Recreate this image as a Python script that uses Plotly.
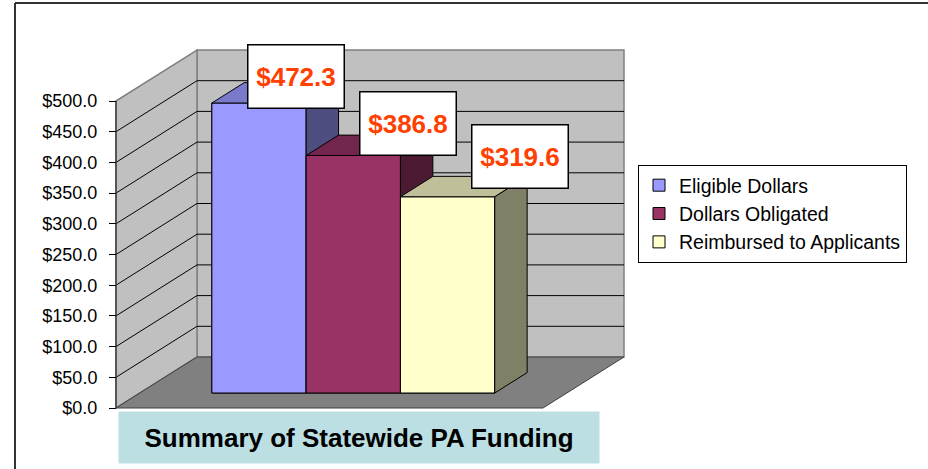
import plotly.graph_objects as go

# ---------------- data ----------------
categories = ["Eligible Dollars", "Dollars Obligated", "Reimbursed to Applicants"]
values = [472.3, 386.8, 319.6]
value_labels = ["$472.3", "$386.8", "$319.6"]
tick_values = [0, 50, 100, 150, 200, 250, 300, 350, 400, 450, 500]
tick_labels = ["$0.0", "$50.0", "$100.0", "$150.0", "$200.0", "$250.0",
               "$300.0", "$350.0", "$400.0", "$450.0", "$500.0"]
title_text = "Summary of Statewide PA Funding"

# ---------------- styles ----------------
front_colors = ["#9999FF", "#993366", "#FFFFCC"]
top_colors = ["#7A7ACC", "#73264D", "#BFBF99"]
side_colors = ["#4D4D80", "#4D1A33", "#808066"]
WALL = "#C0C0C0"
FLOOR = "#808080"
LABEL_RED = "#FF4000"
FONT = "Arial, 'Liberation Sans', sans-serif"

# ---------------- geometry (oblique 3-D projection) ----------------
W, H = 928, 469
PX_PER_CAT = 94.3          # pixels per category step
PX_PER_USD = 0.614         # pixels per dollar (front plane)
X0_PX, Y0_PX = 259, 408    # pixel of category 0 / $0 on the front plane
DX = 81 / PX_PER_CAT       # full depth of the chart box, x data units
DY = 51 / PX_PER_USD       # full depth of the chart box, y data units
BAR_FRONT = 0.294          # depth fraction where bar fronts sit
BAR_DEPTH = 0.40           # depth fraction occupied by bars
XL = (116 - X0_PX) / PX_PER_CAT   # left edge of floor/left wall (front)
XR = (543 - X0_PX) / PX_PER_CAT   # right edge of floor (front)
WALL_TOP = tick_values[-1]

x_range = [-X0_PX / PX_PER_CAT, (W - X0_PX) / PX_PER_CAT]
y_range = [(Y0_PX - H) / PX_PER_USD, Y0_PX / PX_PER_USD]

base = BAR_FRONT * DY
bdx, bdy = BAR_DEPTH * DX, BAR_DEPTH * DY

fig = go.Figure()

# ---------------- walls & floor (shapes, below traces) ----------------
def poly(pts):
    return "M " + " L ".join(f"{x},{y}" for x, y in pts) + " Z"

shapes = []
# back wall
shapes.append(dict(type="path", xref="x", yref="y", layer="below",
                   path=poly([(XL + DX, DY), (XL + DX, WALL_TOP + DY),
                              (XR + DX, WALL_TOP + DY), (XR + DX, DY)]),
                   fillcolor=WALL, line=dict(color="#808080", width=1.5)))
# left wall
shapes.append(dict(type="path", xref="x", yref="y", layer="below",
                   path=poly([(XL, 0), (XL, WALL_TOP), (XL + DX, WALL_TOP + DY),
                              (XL + DX, DY)]),
                   fillcolor=WALL, line=dict(color="#808080", width=1.5)))
# floor
shapes.append(dict(type="path", xref="x", yref="y", layer="below",
                   path=poly([(XL, 0), (XR, 0), (XR + DX, DY), (XL + DX, DY)]),
                   fillcolor=FLOOR, line=dict(color="#404040", width=1)))
# gridlines
for v in tick_values[1:-1]:
    shapes.append(dict(type="line", xref="x", yref="y", layer="below",
                       x0=XL, y0=v, x1=XL + DX, y1=v + DY,
                       line=dict(color="black", width=1)))
    shapes.append(dict(type="line", xref="x", yref="y", layer="below",
                       x0=XL + DX, y0=v + DY, x1=XR + DX, y1=v + DY,
                       line=dict(color="black", width=1)))
# front edge of left wall
shapes.append(dict(type="line", xref="x", yref="y", layer="below",
                   x0=XL, y0=0, x1=XL, y1=WALL_TOP,
                   line=dict(color="#404040", width=1.5)))
# outer frame (left & top)
shapes.append(dict(type="line", xref="paper", yref="paper",
                   x0=15 / W, y0=0, x1=15 / W, y1=1 - 3 / H,
                   line=dict(color="#333333", width=2)))
shapes.append(dict(type="line", xref="paper", yref="paper",
                   x0=15 / W, y0=1 - 3 / H, x1=1, y1=1 - 3 / H,
                   line=dict(color="#333333", width=2)))

# ---------------- legend carriers (plain bars, hidden under faces) -------
for i, (cat, v) in enumerate(zip(categories, values)):
    fig.add_trace(go.Bar(x=[i], y=[v], base=base, width=1, name=cat,
                         legendgroup=str(i),
                         marker=dict(color=front_colors[i],
                                     line=dict(color="black", width=1)),
                         hoverinfo="skip"))

# ---------------- 3-D bar faces ----------------
for i, v in enumerate(values):
    xl, xr = i - 0.5, i + 0.5
    yb, yt = base, base + v
    faces = [
        ([xl, xr, xr, xl, xl], [yb, yb, yt, yt, yb], front_colors[i]),
        ([xl, xr, xr + bdx, xl + bdx, xl], [yt, yt, yt + bdy, yt + bdy, yt], top_colors[i]),
        ([xr, xr + bdx, xr + bdx, xr, xr], [yb, yb + bdy, yt + bdy, yt, yb], side_colors[i]),
    ]
    for fx, fy, col in faces:
        fig.add_trace(go.Scatter(x=fx, y=fy, mode="lines", fill="toself",
                                 fillcolor=col, line=dict(color="black", width=1),
                                 showlegend=False, hoverinfo="skip"))

# ---------------- value labels ----------------
label_shift_x = [36.5, 54.5, 72]
label_shift_y = [27, 32, 40.5]
for i, v in enumerate(values):
    fig.add_annotation(x=i, y=base + v, xref="x", yref="y", text=f"<b>{value_labels[i]}</b>",
                       showarrow=False, xshift=label_shift_x[i], yshift=label_shift_y[i],
                       xanchor="center", yanchor="middle",
                       font=dict(family=FONT, size=26, color=LABEL_RED),
                       bgcolor="white", bordercolor="black", borderwidth=1.5,
                       borderpad=1, width=93, height=60)

# ---------------- title box ----------------
fig.add_annotation(x=359 / W, y=1 - 437.5 / H, xref="paper", yref="paper",
                   xanchor="center", yanchor="middle",
                   text=f"<b>{title_text}</b>", showarrow=False,
                   font=dict(family=FONT, size=26, color="black"),
                   bgcolor="#BBDFE2", borderpad=0, width=480, height=51)

fig.update_layout(
    width=W, height=H,
    margin=dict(l=0, r=0, t=0, b=0),
    paper_bgcolor="white", plot_bgcolor="white",
    barmode="overlay",
    shapes=shapes,
    xaxis=dict(range=x_range, visible=False, fixedrange=True),
    yaxis=dict(range=y_range, anchor="free", position=116 / W,
               tickmode="array", tickvals=tick_values, ticktext=tick_labels,
               ticks="outside", ticklen=7, tickcolor="black", tickwidth=1,
               ticklabelstandoff=8,
               showgrid=False, zeroline=False, showline=False,
               tickfont=dict(family=FONT, size=18, color="black"), fixedrange=True),
    legend=dict(x=638 / W, y=1 - 165 / H, xanchor="left", yanchor="top",
                bgcolor="white", bordercolor="black", borderwidth=1,
                font=dict(family=FONT, size=19.5, color="black"),
                tracegroupgap=6, itemwidth=30, traceorder="normal"),
    showlegend=True,
)

fig.write_html("out.html", config={"displayModeBar": False},
               post_script="document.body.style.margin='0px';")
